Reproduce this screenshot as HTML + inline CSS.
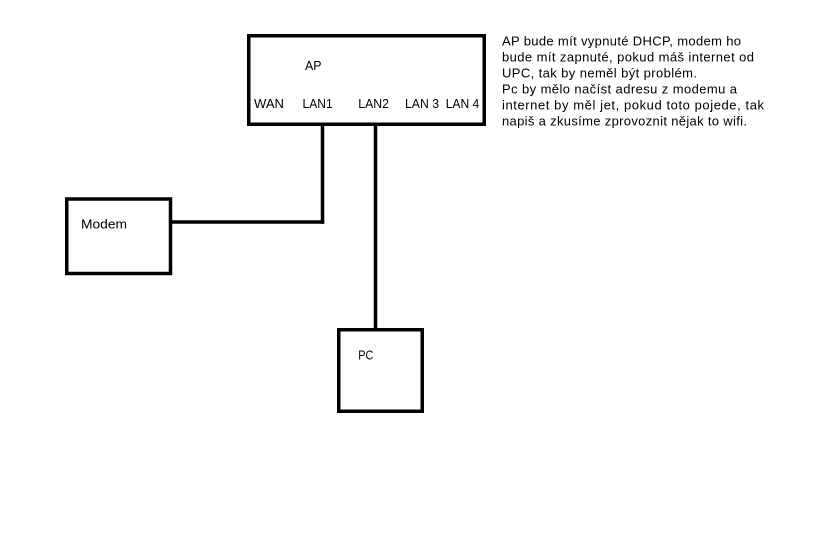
<!DOCTYPE html>
<html>
<head>
<meta charset="utf-8">
<style>
  html, body { margin: 0; padding: 0; background: #fff; }
  body { width: 818px; height: 551px; overflow: hidden; }
  svg { display: block; }
  text { font-family: "Liberation Sans", "DejaVu Sans", sans-serif; fill: #000; }
</style>
</head>
<body>
<svg width="818" height="551" viewBox="0 0 818 551" xmlns="http://www.w3.org/2000/svg">
  <rect x="0" y="0" width="818" height="551" fill="#ffffff"/>

  <!-- AP box -->
  <rect x="248.75" y="35.75" width="235.5" height="88.5" fill="none" stroke="#000" stroke-width="3.5"/>
  <text x="305" y="70" font-size="12.5" textLength="16.5" lengthAdjust="spacingAndGlyphs">AP</text>
  <text x="254" y="108" font-size="12.5" textLength="30" lengthAdjust="spacingAndGlyphs">WAN</text>
  <text x="302.5" y="108" font-size="12.5" textLength="30.2" lengthAdjust="spacingAndGlyphs">LAN1</text>
  <text x="358.3" y="108" font-size="12.5" textLength="30.7" lengthAdjust="spacingAndGlyphs">LAN2</text>
  <text x="405" y="108" font-size="12.5" textLength="34" lengthAdjust="spacingAndGlyphs">LAN 3</text>
  <text x="445.7" y="108" font-size="12.5" textLength="33.6" lengthAdjust="spacingAndGlyphs">LAN 4</text>

  <!-- Modem box -->
  <rect x="66.75" y="199" width="103.75" height="74.5" fill="none" stroke="#000" stroke-width="3.5"/>
  <text x="81" y="228.5" font-size="12.5" textLength="46" lengthAdjust="spacingAndGlyphs">Modem</text>

  <!-- PC box -->
  <rect x="338.75" y="329.75" width="83.5" height="81.5" fill="none" stroke="#000" stroke-width="3.5"/>
  <text x="358.3" y="359.5" font-size="12.5" textLength="15" lengthAdjust="spacingAndGlyphs">PC</text>

  <!-- Connectors -->
  <line x1="322.5" y1="125" x2="322.5" y2="223.8" stroke="#000" stroke-width="3.5"/>
  <line x1="171" y1="222" x2="324.2" y2="222" stroke="#000" stroke-width="3.5"/>
  <line x1="375.5" y1="125" x2="375.5" y2="330" stroke="#000" stroke-width="3.5"/>

  <!-- Note text -->
  <g font-size="13">
    <text x="502" y="45.5" textLength="239" lengthAdjust="spacing">AP bude mít vypnuté DHCP, modem ho</text>
    <text x="502" y="61.5" textLength="252" lengthAdjust="spacing">bude mít zapnuté, pokud máš internet od</text>
    <text x="502" y="77.5" textLength="195" lengthAdjust="spacing">UPC, tak by neměl být problém.</text>
    <text x="502" y="93.5" textLength="235" lengthAdjust="spacing">Pc by mělo načíst adresu z modemu a</text>
    <text x="502" y="109.5" textLength="262" lengthAdjust="spacing">internet by měl jet, pokud toto pojede, tak</text>
    <text x="502" y="125.5" textLength="245" lengthAdjust="spacing">napiš a zkusíme zprovoznit nějak to wifi.</text>
  </g>
</svg>
</body>
</html>
